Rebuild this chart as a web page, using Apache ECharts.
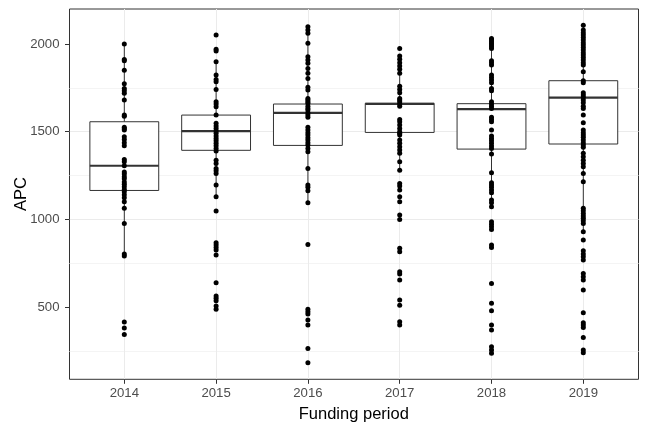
<!DOCTYPE html>
<html>
<head>
<meta charset="utf-8">
<script src="https://cdn.jsdelivr.net/npm/echarts@6/dist/echarts.min.js"></script>
<style>html,body{margin:0;padding:0;background:#fff;}#c{width:648px;height:432px;}</style>
</head>
<body>
<div id="c"></div>
<script>
// ---- data ----
const years = ['2014', '2015', '2016', '2017', '2018', '2019'];
const yTicks = [500, 1000, 1500, 2000];

const apc2014 = [2000, 1912, 1905, 1850, 1774, 1747, 1734, 1719, 1681, 1595, 1589, 1525, 1517, 1510, 1472, 1456, 1437, 1420, 1342, 1329, 1306, 1270, 1259, 1243, 1232, 1213, 1200, 1186, 1171, 1158, 1141, 1124, 1101, 1063, 976, 802, 791, 415, 380, 344];
const apc2015 = [2051, 1971, 1960, 1899, 1823, 1798, 1785, 1741, 1671, 1658, 1643, 1595, 1548, 1532, 1519, 1504, 1491, 1475, 1462, 1449, 1434, 1420, 1405, 1390, 1338, 1319, 1291, 1278, 1262, 1196, 1129, 1048, 867, 854, 840, 825, 797, 639, 563, 550, 536, 506, 487];
const apc2016 = [2099, 2080, 2061, 2004, 1928, 1909, 1890, 1861, 1833, 1804, 1753, 1738, 1690, 1681, 1671, 1662, 1646, 1633, 1624, 1608, 1595, 1582, 1525, 1510, 1494, 1481, 1466, 1453, 1437, 1424, 1405, 1386, 1291, 1196, 1183, 1164, 1095, 857, 487, 473, 460, 426, 397, 264, 183];
const apc2017 = [1975, 1932, 1913, 1894, 1875, 1856, 1833, 1760, 1741, 1722, 1690, 1681, 1671, 1658, 1646, 1570, 1557, 1538, 1519, 1500, 1491, 1481, 1453, 1434, 1415, 1396, 1377, 1329, 1281, 1205, 1190, 1167, 1129, 1101, 1025, 1000, 835, 816, 702, 688, 654, 540, 511, 416, 397];
const apc2018 = [2032, 2023, 2013, 2004, 1994, 1985, 1975, 1905, 1894, 1880, 1823, 1810, 1795, 1779, 1747, 1734, 1671, 1658, 1646, 1633, 1582, 1570, 1557, 1510, 1475, 1462, 1449, 1434, 1419, 1405, 1373, 1266, 1209, 1196, 1183, 1167, 1152, 1110, 1095, 1072, 987, 973, 958, 943, 854, 840, 635, 522, 479, 397, 369, 274, 255, 236];
const apc2019 = [2108, 2080, 2065, 2051, 2038, 2023, 2008, 1994, 1981, 1966, 1951, 1937, 1924, 1909, 1894, 1880, 1842, 1791, 1779, 1722, 1709, 1696, 1681, 1665, 1646, 1633, 1595, 1551, 1510, 1494, 1481, 1468, 1453, 1437, 1424, 1411, 1377, 1357, 1338, 1319, 1300, 1262, 1215, 1063, 1050, 1034, 1019, 1006, 992, 977, 930, 882, 821, 802, 787, 768, 692, 673, 654, 597, 468, 411, 397, 384, 327, 255, 240];

// box statistics
const whiskerLow  = [791, 1129, 1095, 1281, 1072, 930];
const q1          = [1165, 1394, 1422, 1496, 1401, 1430];
const median      = [1306, 1504, 1608, 1659, 1629, 1694];
const q3          = [1557, 1595, 1658, 1662, 1660, 1791];
const whiskerHigh = [2000, 1899, 2099, 1894, 2032, 2108];

const yMin = 88, yMax = 2200;

// ---- build ----
const allApc = [apc2014, apc2015, apc2016, apc2017, apc2018, apc2019];
const points = [];
allApc.forEach((arr, i) => arr.forEach(v => points.push([i, v])));
const boxData = years.map((y, i) => [i, whiskerLow[i], q1[i], median[i], q3[i], whiskerHigh[i]]);

const FONT = 'Liberation Sans, Arial, Helvetica, sans-serif';
const dark = '#333333';

const chart = echarts.init(document.getElementById('c'), null, {renderer: 'canvas'});
chart.setOption({
  animation: false,
  backgroundColor: '#ffffff',
  textStyle: {fontFamily: FONT},
  grid: [
    {left: 124.3, right: 64.7, top: 9, bottom: 52.7, containLabel: false, outerBoundsMode: 'none'},
    {left: 69.5, right: 9.5, top: 9, bottom: 52.7, containLabel: false, outerBoundsMode: 'none',
      show: true, borderColor: dark, borderWidth: 1, backgroundColor: 'transparent'}
  ],
  xAxis: [
    {
      gridIndex: 0, type: 'category', data: years, boundaryGap: false,
      axisLine: {show: false},
      axisTick: {show: true, length: 4.5, lineStyle: {color: dark, width: 1}},
      axisLabel: {color: '#4D4D4D', fontSize: 13.2, margin: 8, fontFamily: FONT},
      splitLine: {show: true, lineStyle: {color: '#EBEBEB', width: 1}},
      name: 'Funding period', nameLocation: 'middle', nameGap: 27, nameMoveOverlap: false,
      nameTextStyle: {color: '#000', fontSize: 16.5, fontFamily: FONT}
    },
    {gridIndex: 1, type: 'value', min: 0, max: 1, show: false}
  ],
  yAxis: [
    {gridIndex: 0, type: 'value', min: yMin, max: yMax, show: false},
    {
      gridIndex: 1, type: 'value', min: yMin, max: yMax, position: 'left',
      axisLine: {show: false},
      axisTick: {show: true, length: 4.5, lineStyle: {color: dark, width: 1}, customValues: yTicks},
      axisLabel: {color: '#4D4D4D', fontSize: 13.2, margin: 10, fontFamily: FONT, customValues: yTicks,
        formatter: function (v) { return String(v); }},
      splitLine: {show: true, showMinLine: false, showMaxLine: false, lineStyle: {color: '#EBEBEB', width: 1}},
      name: 'APC', nameLocation: 'middle', nameGap: 40, nameRotate: 90, nameMoveOverlap: false,
      nameTextStyle: {color: '#000', fontSize: 16.5, fontFamily: FONT}
    },
    {
      // minor grid lines (offset by half an interval)
      gridIndex: 1, type: 'value', min: yMin - 250, max: yMax - 250, position: 'left',
      axisLine: {show: false}, axisTick: {show: false}, axisLabel: {show: false},
      splitLine: {show: true, showMinLine: false, showMaxLine: false, lineStyle: {color: '#F4F4F4', width: 1}}
    }
  ],
  series: [
    {
      type: 'custom',
      xAxisIndex: 0, yAxisIndex: 0,
      data: boxData,
      encode: {x: 0, y: [1, 2, 3, 4, 5]},
      z: 2,
      renderItem: function (params, api) {
        const x = api.value(0);
        const pLo = api.coord([x, api.value(1)]);
        const pQ1 = api.coord([x, api.value(2)]);
        const pMed = api.coord([x, api.value(3)]);
        const pQ3 = api.coord([x, api.value(4)]);
        const pHi = api.coord([x, api.value(5)]);
        const bw = api.size([1, 0])[0] * 0.75;
        const cx = pMed[0];
        const stroke = {stroke: dark, lineWidth: 1, fill: null};
        return {
          type: 'group',
          children: [
            {type: 'line', shape: {x1: cx, y1: pQ3[1], x2: cx, y2: pHi[1]}, style: stroke},
            {type: 'line', shape: {x1: cx, y1: pQ1[1], x2: cx, y2: pLo[1]}, style: stroke},
            {type: 'rect', shape: {x: cx - bw / 2, y: pQ3[1], width: bw, height: pQ1[1] - pQ3[1]},
              style: {fill: '#ffffff', stroke: dark, lineWidth: 1}},
            {type: 'line', shape: {x1: cx - bw / 2, y1: pMed[1], x2: cx + bw / 2, y2: pMed[1]},
              style: {stroke: dark, lineWidth: 2.2}}
          ]
        };
      }
    },
    {
      type: 'scatter',
      xAxisIndex: 0, yAxisIndex: 0,
      data: points,
      symbol: 'circle',
      symbolSize: 5,
      itemStyle: {color: '#000000', opacity: 1},
      z: 3
    }
  ]
});
</script>
</body>
</html>
